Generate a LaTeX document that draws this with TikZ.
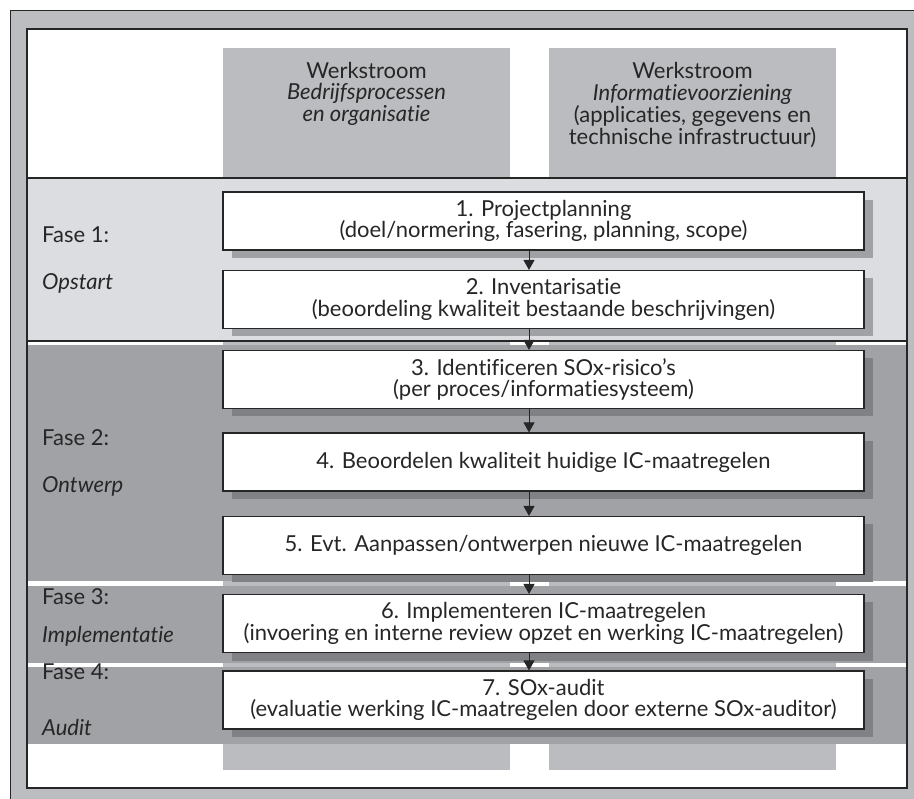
\documentclass[tikz,border=0pt]{standalone}
\usepackage{fontspec}
\setmainfont[Ligatures=NoCommon]{Lato}
\usetikzlibrary{arrows.meta,shadows}

\definecolor{framegray}{HTML}{BCBDC1}
\definecolor{colgray}{HTML}{BBBCBF}
\definecolor{startband}{HTML}{DCDDE0}
\definecolor{phaseband}{HTML}{A1A2A5}
\definecolor{lightshadow}{HTML}{A0A1A4}
\definecolor{darkshadow}{HTML}{808184}
\definecolor{ink}{HTML}{262626}

\newcommand{\diagfont}{\fontsize{22}{21.7}\selectfont}

\tikzset{
  stepbox/.style={draw=ink, line width=1.1pt, fill=white,
    minimum width=641pt, minimum height=58pt, align=center,
    inner sep=0pt, font=\diagfont, text=ink},
  softshadow/.style={drop shadow={shadow xshift=9pt, shadow yshift=-8pt,
    fill=lightshadow, opacity=1}},
  hardshadow/.style={drop shadow={shadow xshift=9pt, shadow yshift=-8pt,
    fill=darkshadow, opacity=1}},
  flowarrow/.style={draw=ink, line width=1pt,
    -{Triangle[width=11pt,length=10pt]}},
  phaselabel/.style={anchor=base west, inner sep=0pt, font=\diagfont, text=ink},
  header/.style={align=center, inner sep=0pt, font=\diagfont, text=ink}
}

\begin{document}
\begin{tikzpicture}[x=1pt,y=-1pt]
\useasboundingbox (0,0) rectangle (914,799);
\fill[white] (0,0) rectangle (914,799);

% outer frame
\fill[framegray] (10,11) rectangle (914,799);
\draw[ink, line width=1pt] (10,799) -- (10,11) -- (914,11);

% inner panel
\fill[white] (27,29) rectangle (907,788);

% work stream columns
\fill[colgray] (223,48) rectangle (510,770);
\fill[colgray] (549,48) rectangle (836,770);

% phase bands
\fill[phaseband] (27,345) rectangle (907,581);
\fill[phaseband] (27,586) rectangle (907,663);
\fill[phaseband] (27,667) rectangle (907,744);
\filldraw[fill=startband, draw=ink, line width=1.1pt] (27,178) rectangle (907,341);

% inner panel border
\draw[ink, line width=1.2pt] (27,29) rectangle (907,788);

% column headers
\node[header] (h1) at (366.5,93.7) {Werkstroom\\\textit{Bedrijfsprocessen}\\\textit{en organisatie}};
\node[header] (h2) at (692.5,105.0) {Werkstroom\\\textit{Informatievoorziening}\\(applicaties, gegevens en\\technische infrastructuur)};

% phase labels
\node[phaselabel] (f1) at (42,243) {Fase 1:};
\node[phaselabel] (o1) at (42,290) {\textit{Opstart}};
\node[phaselabel] (f2) at (42,446) {Fase 2:};
\node[phaselabel] (o2) at (42,493) {\textit{Ontwerp}};
\node[phaselabel] (f3) at (42,605) {Fase 3:};
\node[phaselabel] (o3) at (42,643) {\textit{Implementatie}};
\node[phaselabel] (f4) at (42,680) {Fase 4:};
\node[phaselabel] (o4) at (42,735) {\textit{Audit}};

% steps
\node[stepbox, softshadow] (b1) at (543.5,221) {1. Projectplanning\\(doel/normering, fasering, planning, scope)};
\node[stepbox, softshadow] (b2) at (543.5,299.5) {2. Inventarisatie\\(beoordeling kwaliteit bestaande beschrijvingen)};
\node[stepbox, hardshadow] (b3) at (543.5,379.5) {3. Identificeren SOx-risico’s\\(per proces/informatiesysteem)};
\node[stepbox, hardshadow] (b4) at (543.5,462) {4. Beoordelen kwaliteit huidige IC-maatregelen};
\node[stepbox, hardshadow] (b5) at (543.5,545.5) {5. Evt. Aanpassen/ontwerpen nieuwe IC-maatregelen};
\node[stepbox, hardshadow] (b6) at (543.5,623.5) {6. Implementeren IC-maatregelen\\(invoering en interne review opzet en werking IC-maatregelen)};
\node[stepbox, hardshadow] (b7) at (543.5,700) {7. SOx-audit\\(evaluatie werking IC-maatregelen door externe SOx-auditor)};

% flow arrows
\foreach \a/\b in {b1/b2,b2/b3,b3/b4,b4/b5,b5/b6,b6/b7}
  \draw[flowarrow] ([xshift=-14.5pt]\a.south) -- ([xshift=-14.5pt]\b.north);
\end{tikzpicture}
\end{document}
